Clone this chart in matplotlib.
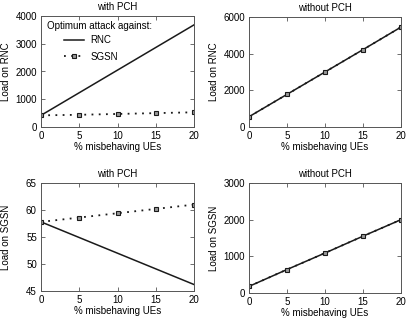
import matplotlib
matplotlib.use("Agg")
from matplotlib import pyplot as plt

plt.rcParams['font.family'] = ['Liberation Sans', 'DejaVu Sans']
plt.rcParams['font.size'] = 7

ues = [0, 5, 10, 15, 20]

# Load on RNC
rnc_pch_vs_rnc = [420, 1235, 2050, 2865, 3680]
rnc_pch_vs_sgsn = [420, 440, 470, 500, 530]
rnc_nopch_vs_rnc = [560, 1780, 3000, 4220, 5450]
rnc_nopch_vs_sgsn = [560, 1780, 3000, 4220, 5450]

# Load on SGSN
sgsn_pch_vs_rnc = [57.8, 54.9, 52.0, 49.1, 46.2]
sgsn_pch_vs_sgsn = [57.8, 58.6, 59.4, 60.2, 61.0]
sgsn_nopch_vs_rnc = [180, 640, 1090, 1550, 2000]
sgsn_nopch_vs_sgsn = [180, 640, 1090, 1550, 2000]

W, H = 407, 321
fig = plt.figure(figsize=(W / 100, H / 100), dpi=100)


def add_ax(x0, x1, y0, y1):
    return fig.add_axes([x0 / W, 1 - y1 / H, (x1 - x0) / W, (y1 - y0) / H])


panels = [
    (add_ax(41, 194, 16, 127), rnc_pch_vs_rnc, rnc_pch_vs_sgsn, 'with PCH', 'Load on RNC', (0, 4000), [0, 1000, 2000, 3000, 4000]),
    (add_ax(249, 401, 17, 127), rnc_nopch_vs_rnc, rnc_nopch_vs_sgsn, 'without PCH', 'Load on RNC', (0, 6000), [0, 2000, 4000, 6000]),
    (add_ax(41, 194, 183, 291), sgsn_pch_vs_rnc, sgsn_pch_vs_sgsn, 'with PCH', 'Load on SGSN', (45, 65), [45, 50, 55, 60, 65]),
    (add_ax(249, 401, 183, 293), sgsn_nopch_vs_rnc, sgsn_nopch_vs_sgsn, 'without PCH', 'Load on SGSN', (0, 3000), [0, 1000, 2000, 3000]),
]

for i, (ax, y_rnc, y_sgsn, title, ylabel, ylim, yticks) in enumerate(panels):
    ax.plot(ues, y_rnc, '-', color='#1a1a1a', lw=1.1, label='RNC')
    ax.plot(ues, y_sgsn, color='#1a1a1a', lw=1.3, ls=(0, (1, 3)), marker='s', ms=3.5,
            mfc='#999999', mec='#1a1a1a', mew=0.8, label='SGSN')
    ax.set_xlim(0, 20)
    ax.set_ylim(*ylim)
    ax.set_xticks(ues)
    ax.set_yticks(yticks)
    ax.set_title(title, fontsize=7, pad=4)
    ax.set_xlabel('% misbehaving UEs')
    ax.set_ylabel(ylabel)
    bbox = ax.get_position()
    ax.xaxis.set_label_coords(0.5, -15 / (bbox.height * H))
    ax.yaxis.set_label_coords(-30 / (bbox.width * W), 0.5)
    ax.tick_params(direction='in', length=3, width=0.6, pad=3, top=True, right=True,
                   color='#555555')
    for s in ax.spines.values():
        s.set_linewidth(0.7)
        s.set_color('#555555')
    if i == 0:
        bw, bh = bbox.width * W, bbox.height * H
        ax.text(6 / bw, 1 - 10 / bh, 'Optimum attack against:', transform=ax.transAxes,
                ha='left', va='center')
        ax.legend(loc='upper left', bbox_to_anchor=(23 / bw, 1 - 19 / bh),
                  frameon=False, fontsize=7, handlelength=2.1, handletextpad=0.6,
                  borderaxespad=0.0, borderpad=0.0, labelspacing=0.7)

fig.savefig('out.png', dpi=100)
